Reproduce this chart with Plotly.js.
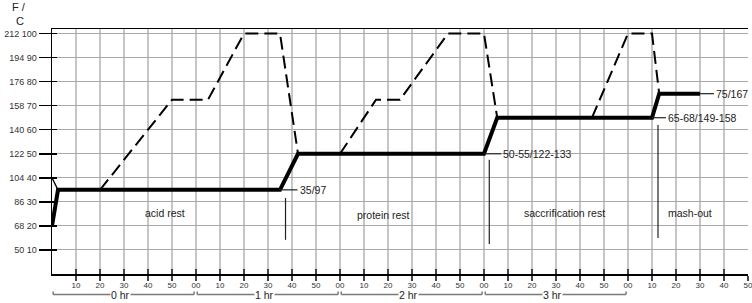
<!DOCTYPE html>
<html>
<head>
<meta charset="utf-8">
<script src="https://cdn.plot.ly/plotly-3.0.1.min.js"></script>
<style>html,body{margin:0;padding:0;background:#fff;}#chart{width:752px;height:303px;}</style>
</head>
<body>
<div id="chart"></div>
<script>
// ---- data (time in minutes, temperature in °C) ----
const mashTime  = [0, 2.5, 95, 102.5, 180, 185.5, 250, 253, 270];
const mashTemp  = [20, 35, 35, 50, 50, 65, 65, 75, 75];

const startTime = [0, 2.5];
const startTemp = [40, 35];

const decoction1Time = [20, 50, 65, 80, 95, 102.5];
const decoction1Temp = [35, 72.5, 72.5, 100, 100, 50];
const decoction2Time = [120, 135, 145, 165, 180, 185.5];
const decoction2Temp = [50, 72.5, 72.5, 100, 100, 65];
const decoction3Time = [225, 240, 250, 253];
const decoction3Temp = [65, 100, 100, 75];

// step markers (vertical thin lines)
const markerTime = [97.3, 182.2, 252.5];
const markerTop  = [31.6, 47.5, 62];
const markerBot  = [14.2, 12.5, 15];

// step value labels with leader lines
const stepLabels   = ["35/97", "50-55/122-133", "65-68/149-158", "75/167"];
const stepFrom     = [95, 180, 250, 270];
const stepTo       = [102.3, 187.2, 255.8, 275.8];
const stepTemp     = [35, 50, 65, 75];

// rest names
const restLabels = ["acid rest", "protein rest", "saccrification rest", "mash-out"];
const restStart  = [37.9, 126.3, 196.0, 255.7];
const restTemp   = [25.4, 24.6, 25.4, 25.3];

// axis ticks
const xTickVals = [10,20,30,40,50,60,70,80,90,100,110,120,130,140,150,160,170,180,190,200,210,220,230,240,250,260,270,280,290];
const xTickLabels = ["10","20","30","40","50","00","10","20","30","40","50","00","10","20","30","40","50","00","10","20","30","40","50","00","10","20","30","40","50"];
const yTickVals = [10,20,30,40,50,60,70,80,90,100];
const yTickLabels = ["50 10","68 20","86 30","104 40","122 50","140 60","158 70","176 80","194 90","212 100"];

// hour brackets
const hourLabels = ["0 hr", "1 hr", "2 hr", "3 hr"];
const hourStart  = [0, 60, 120, 180];

// ---- traces ----
const traces = [];
const dashStyle = {color: "#000", width: 2, dash: "13px,6px"};
[[decoction1Time, decoction1Temp],[decoction2Time, decoction2Temp],[decoction3Time, decoction3Temp]].forEach(function(d){
  traces.push({x: d[0], y: d[1], mode: "lines", line: dashStyle, hoverinfo: "skip", showlegend: false});
});
traces.push({x: startTime, y: startTemp, mode: "lines", line: {color: "#000", width: 1.3}, hoverinfo: "skip", showlegend: false});
traces.push({x: mashTime, y: mashTemp, mode: "lines", line: {color: "#000", width: 4}, hoverinfo: "skip", showlegend: false});
for (let i = 0; i < markerTime.length; i++) {
  traces.push({x: [markerTime[i], markerTime[i]], y: [markerTop[i], markerBot[i]], mode: "lines",
    line: {color: "#222", width: 1.2}, hoverinfo: "skip", showlegend: false});
}
for (let i = 0; i < stepLabels.length; i++) {
  traces.push({x: [stepFrom[i], stepTo[i]], y: [stepTemp[i], stepTemp[i]], mode: "lines",
    line: {color: "#222", width: 1.2}, hoverinfo: "skip", showlegend: false});
}
// dummy traces for overlay tick axes
traces.push({x: [null], y: [null], xaxis: "x2", yaxis: "y", mode: "lines", showlegend: false, hoverinfo: "skip"});
traces.push({x: [null], y: [null], xaxis: "x", yaxis: "y2", mode: "lines", showlegend: false, hoverinfo: "skip"});

// ---- annotations ----
const annotations = [];
const txtFont = {family: "Liberation Sans, Arial, sans-serif", size: 10.5, color: "#222"};
for (let i = 0; i < stepLabels.length; i++) {
  annotations.push({x: stepTo[i], y: stepTemp[i], xref: "x", yref: "y", text: stepLabels[i],
    showarrow: false, xanchor: "left", yanchor: "middle", font: txtFont, xshift: 0});
}
for (let i = 0; i < restLabels.length; i++) {
  annotations.push({x: restStart[i], y: restTemp[i], xref: "x", yref: "y", text: restLabels[i],
    showarrow: false, xanchor: "left", yanchor: "middle", font: txtFont});
}
const hourY = -0.0840;
for (let i = 0; i < hourLabels.length; i++) {
  annotations.push({x: hourStart[i] + 28.5, y: hourY, xref: "x", yref: "paper", text: hourLabels[i],
    showarrow: false, xanchor: "center", yanchor: "middle", bgcolor: "#fff", borderpad: 0,
    font: {family: "Liberation Sans, Arial, sans-serif", size: 10.5, color: "#222"}});
}
annotations.push({x: -0.0474, y: 1.0918, xref: "paper", yref: "paper", text: "F /", showarrow: false,
  xanchor: "center", yanchor: "middle", font: {family: "Liberation Sans, Arial, sans-serif", size: 11, color: "#222"}});
annotations.push({x: -0.046, y: 1.0327, xref: "paper", yref: "paper", text: "C", showarrow: false,
  xanchor: "center", yanchor: "middle", font: {family: "Liberation Sans, Arial, sans-serif", size: 11, color: "#222"}});

// ---- shapes: hour brackets ----
const shapes = [];
const brkStyle = {color: "#7a7a7a", width: 1.5};
for (let i = 0; i < hourStart.length; i++) {
  const a = hourStart[i] + 0.5, b = hourStart[i] + 59.2;
  shapes.push({type: "line", xref: "x", yref: "paper", x0: a, x1: b, y0: hourY, y1: hourY, line: brkStyle});
  shapes.push({type: "line", xref: "x", yref: "paper", x0: a, x1: a, y0: hourY, y1: hourY + 3/245, line: brkStyle});
  shapes.push({type: "line", xref: "x", yref: "paper", x0: b, x1: b, y0: hourY, y1: hourY + 3/245, line: brkStyle});
}

const layout = {
  width: 752, height: 303,
  margin: {l: 52, r: 4, t: 29, b: 29, pad: 0},
  paper_bgcolor: "#fff", plot_bgcolor: "#fff",
  showlegend: false,
  xaxis: {
    range: [0, 290], tickmode: "array", tickvals: xTickVals, ticktext: xTickLabels,
    ticks: "outside", ticklen: 5, tickwidth: 1.5, tickcolor: "#444",
    ticklabeloverflow: "allow", ticklabelstandoff: -2,
    tickfont: {family: "Liberation Sans, Arial, sans-serif", size: 8, color: "#333"},
    showgrid: true, gridcolor: "#c6c6c6", gridwidth: 1.5,
    showline: true, linecolor: "#000", linewidth: 1.5, mirror: true,
    zeroline: false, fixedrange: true
  },
  xaxis2: {
    overlaying: "x", anchor: "y", side: "bottom", range: [0, 290], tickmode: "array", tickvals: xTickVals,
    ticks: "inside", ticklen: 5, tickwidth: 1.5, tickcolor: "#444", showticklabels: false,
    showgrid: false, showline: false, zeroline: false, fixedrange: true
  },
  yaxis: {
    range: [0, 101.9], tickmode: "array", tickvals: yTickVals, ticktext: yTickLabels,
    ticks: "outside", ticklen: 12, tickwidth: 1.5, tickcolor: "#000",
    ticklabeloverflow: "allow",
    tickfont: {family: "Liberation Sans, Arial, sans-serif", size: 9, color: "#333"},
    showgrid: true, gridcolor: "#a8a8a8", gridwidth: 1,
    showline: true, linecolor: "#000", linewidth: 1.5,
    zeroline: false, fixedrange: true
  },
  yaxis2: {
    overlaying: "y", anchor: "x", side: "left", range: [0, 101.9], tickmode: "array", tickvals: yTickVals,
    ticks: "inside", ticklen: 5, tickwidth: 1.5, tickcolor: "#000", showticklabels: false,
    showgrid: false, showline: false, zeroline: false, fixedrange: true
  },
  annotations: annotations,
  shapes: shapes
};

Plotly.newPlot("chart", traces, layout, {staticPlot: true, displayModeBar: false});
</script>
</body>
</html>
